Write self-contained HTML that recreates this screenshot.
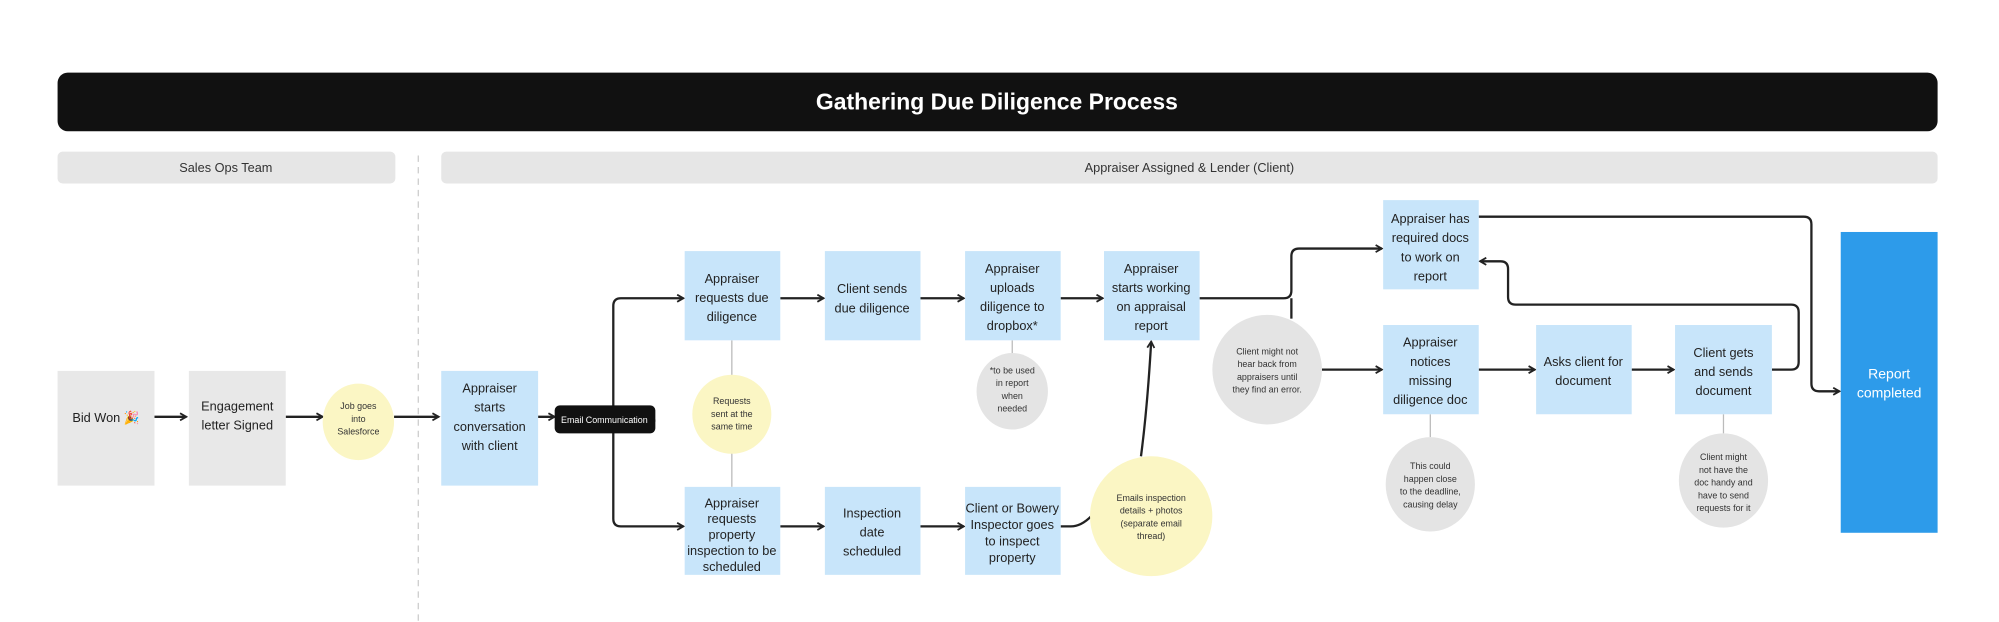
<!DOCTYPE html>
<html><head><meta charset="utf-8"><style>
html,body{margin:0;padding:0;background:#fff;}
svg{display:block;}
text{font-family:"Liberation Sans",sans-serif;text-anchor:middle;}
.b{font-size:10px;fill:#222;}
.s{font-size:7px;fill:#333;}
.ln{stroke:#222;stroke-width:1.8;fill:none;}
.th{stroke:#bbb;stroke-width:1;fill:none;}
</style></head><body>
<svg width="1999" height="622" viewBox="0 0 1568 488" xmlns="http://www.w3.org/2000/svg">
<defs>
<marker id="m" viewBox="0 0 10 10" refX="8" refY="5" markerWidth="7" markerHeight="7" orient="auto" markerUnits="userSpaceOnUse"><path d="M1,1 L8,5 L1,9" fill="none" stroke="#222" stroke-width="2"/></marker></defs>
<rect x="45" y="57" width="1475" height="46" rx="8" fill="#111"/>
<text x="782" y="86" style="font-size:18px;font-weight:bold;fill:#fff">Gathering Due Diligence Process</text>
<rect x="45" y="119" width="265" height="25" rx="4" fill="#e6e6e6"/>
<text x="177" y="135" style="font-size:10px;fill:#333">Sales Ops Team</text>
<rect x="346" y="119" width="1174" height="25" rx="4" fill="#e6e6e6"/>
<text x="933" y="135" style="font-size:10px;fill:#333">Appraiser Assigned &amp; Lender (Client)</text>
<line x1="328" y1="122" x2="328" y2="488" stroke="#ccc" stroke-dasharray="5,4"/>

<g class="ln" marker-end="url(#m)">
<path d="M121,327 H146"/>
<path d="M224,327 H253"/><path d="M309,327 H344"/>
<path d="M422,327 H435"/>
<path d="M481,330 V240 Q481,234 487,234 H536"/>
<path d="M481,330 V407 Q481,413 487,413 H536"/>
<path d="M612,234 H646"/><path d="M722,234 H756"/><path d="M832,234 H865"/>
<path d="M612,413 H646"/><path d="M722,413 H756"/>
<path d="M941,234 H1007 Q1013,234 1013,228 V201 Q1013,195 1019,195 H1084"/>
<path d="M1037,290 H1084"/><path d="M1160,290 H1204"/><path d="M1280,290 H1313"/>
<path d="M1390,290 H1405 Q1411,290 1411,284 V245 Q1411,239 1405,239 H1189 Q1183,239 1183,233 V211 Q1183,205 1177,205 H1161"/>
<path d="M1160,170 H1415 Q1421,170 1421,176 V301 Q1421,307 1427,307 H1443"/>
<path d="M895,358 Q900,320 903,268"/>
</g>
<path class="ln" d="M514,330 H481"/>
<path class="ln" d="M832,413 H840 Q848,413 856,405"/>
<path class="ln" d="M1013,234 V250"/>
<g class="th"><path d="M574,267 V295"/><path d="M574,355 V382"/><path d="M794,267 V279"/><path d="M1122,325 V343"/><path d="M1352,325 V340"/></g>

<rect x="45" y="291" width="76" height="90" fill="#e8e8e8"/>
<text class="b" x="83" y="331">Bid Won 🎉</text>
<rect x="148" y="291" width="76" height="90" fill="#e8e8e8"/>
<text class="b" x="186" y="322"><tspan x="186">Engagement</tspan><tspan x="186" dy="15">letter Signed</tspan></text>
<ellipse cx="281" cy="331" rx="28" ry="30" fill="#fbf6c4"/>
<text class="s" x="281" y="321"><tspan x="281">Job goes</tspan><tspan x="281" dy="10">into</tspan><tspan x="281" dy="10">Salesforce</tspan></text>
<rect x="346" y="291" width="76" height="90" fill="#c8e5fa"/>
<text class="b" x="384" y="308"><tspan x="384">Appraiser</tspan><tspan x="384" dy="15">starts</tspan><tspan x="384" dy="15">conversation</tspan><tspan x="384" dy="15">with client</tspan></text>
<rect x="435" y="318" width="79" height="22" rx="4" fill="#111"/>
<text x="474" y="332" style="font-size:7px;fill:#fff">Email Communication</text>

<rect x="537" y="197" width="75" height="70" fill="#c8e5fa"/>
<text class="b" x="574" y="222"><tspan x="574">Appraiser</tspan><tspan x="574" dy="15">requests due</tspan><tspan x="574" dy="15">diligence</tspan></text>
<rect x="647" y="197" width="75" height="70" fill="#c8e5fa"/>
<text class="b" x="684" y="230"><tspan x="684">Client sends</tspan><tspan x="684" dy="15">due diligence</tspan></text>
<rect x="757" y="197" width="75" height="70" fill="#c8e5fa"/>
<text class="b" x="794" y="214"><tspan x="794">Appraiser</tspan><tspan x="794" dy="15">uploads</tspan><tspan x="794" dy="15">diligence to</tspan><tspan x="794" dy="15">dropbox*</tspan></text>
<rect x="866" y="197" width="75" height="70" fill="#c8e5fa"/>
<text class="b" x="903" y="214"><tspan x="903">Appraiser</tspan><tspan x="903" dy="15">starts working</tspan><tspan x="903" dy="15">on appraisal</tspan><tspan x="903" dy="15">report</tspan></text>

<ellipse cx="574" cy="325" rx="31" ry="31" fill="#fbf6c4"/>
<text class="s" x="574" y="317"><tspan x="574">Requests</tspan><tspan x="574" dy="10">sent at the</tspan><tspan x="574" dy="10">same time</tspan></text>
<ellipse cx="794" cy="307" rx="28" ry="30" fill="#e4e4e4"/>
<text class="s" x="794" y="293"><tspan x="794">*to be used</tspan><tspan x="794" dy="10">in report</tspan><tspan x="794" dy="10">when</tspan><tspan x="794" dy="10">needed</tspan></text>

<rect x="537" y="382" width="75" height="69" fill="#c8e5fa"/>
<text class="b" x="574" y="398"><tspan x="574">Appraiser</tspan><tspan x="574" dy="12.5">requests</tspan><tspan x="574" dy="12.5">property</tspan><tspan x="574" dy="12.5">inspection to be</tspan><tspan x="574" dy="12.5">scheduled</tspan></text>
<rect x="647" y="382" width="75" height="69" fill="#c8e5fa"/>
<text class="b" x="684" y="406"><tspan x="684">Inspection</tspan><tspan x="684" dy="15">date</tspan><tspan x="684" dy="15">scheduled</tspan></text>
<rect x="757" y="382" width="75" height="69" fill="#c8e5fa"/>
<text class="b" x="794" y="402"><tspan x="794">Client or Bowery</tspan><tspan x="794" dy="13">Inspector goes</tspan><tspan x="794" dy="13">to inspect</tspan><tspan x="794" dy="13">property</tspan></text>
<ellipse cx="903" cy="405" rx="48" ry="47" fill="#fbf6c4"/>
<text class="s" x="903" y="393"><tspan x="903">Emails inspection</tspan><tspan x="903" dy="10">details + photos</tspan><tspan x="903" dy="10">(separate email</tspan><tspan x="903" dy="10">thread)</tspan></text>

<ellipse cx="994" cy="290" rx="43" ry="43" fill="#e4e4e4"/>
<text class="s" x="994" y="278"><tspan x="994">Client might not</tspan><tspan x="994" dy="10">hear back from</tspan><tspan x="994" dy="10">appraisers until</tspan><tspan x="994" dy="10">they find an error.</tspan></text>

<rect x="1085" y="157" width="75" height="70" fill="#c8e5fa"/>
<text class="b" x="1122" y="175"><tspan x="1122">Appraiser has</tspan><tspan x="1122" dy="15">required docs</tspan><tspan x="1122" dy="15">to work on</tspan><tspan x="1122" dy="15">report</tspan></text>
<rect x="1085" y="255" width="75" height="70" fill="#c8e5fa"/>
<text class="b" x="1122" y="272"><tspan x="1122">Appraiser</tspan><tspan x="1122" dy="15">notices</tspan><tspan x="1122" dy="15">missing</tspan><tspan x="1122" dy="15">diligence doc</tspan></text>
<rect x="1205" y="255" width="75" height="70" fill="#c8e5fa"/>
<text class="b" x="1242" y="287"><tspan x="1242">Asks client for</tspan><tspan x="1242" dy="15">document</tspan></text>
<rect x="1314" y="255" width="76" height="70" fill="#c8e5fa"/>
<text class="b" x="1352" y="280"><tspan x="1352">Client gets</tspan><tspan x="1352" dy="15">and sends</tspan><tspan x="1352" dy="15">document</tspan></text>
<ellipse cx="1122" cy="380" rx="35" ry="37" fill="#e4e4e4"/>
<text class="s" x="1122" y="368"><tspan x="1122">This could</tspan><tspan x="1122" dy="10">happen close</tspan><tspan x="1122" dy="10">to the deadline,</tspan><tspan x="1122" dy="10">causing delay</tspan></text>
<ellipse cx="1352" cy="377" rx="35" ry="37" fill="#e4e4e4"/>
<text class="s" x="1352" y="361"><tspan x="1352">Client might</tspan><tspan x="1352" dy="10">not have the</tspan><tspan x="1352" dy="10">doc handy and</tspan><tspan x="1352" dy="10">have to send</tspan><tspan x="1352" dy="10">requests for it</tspan></text>

<rect x="1444" y="182" width="76" height="236" fill="#2d9bea"/>
<text x="1482" y="297" style="font-size:11px;fill:#fff"><tspan x="1482">Report</tspan><tspan x="1482" dy="15">completed</tspan></text>
</svg>
</body></html>
